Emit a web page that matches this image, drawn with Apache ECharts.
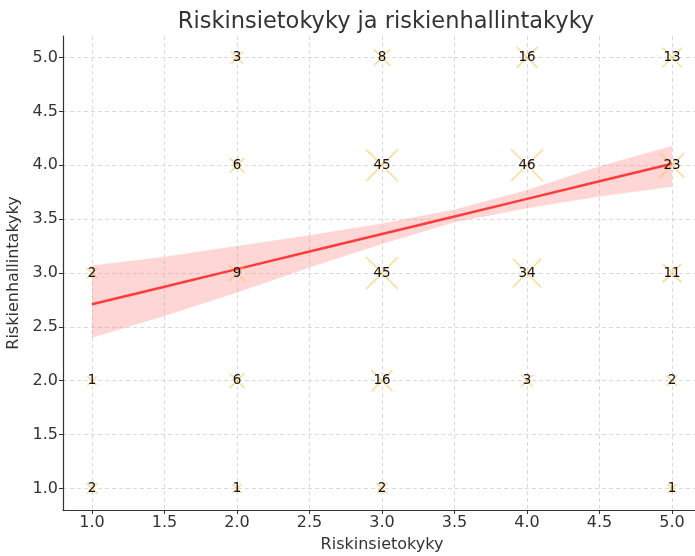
<!DOCTYPE html>
<html><head><meta charset="utf-8">
<script src="https://cdn.jsdelivr.net/npm/echarts@6/dist/echarts.min.js"></script>
<style>html,body{margin:0;padding:0;background:#fff}#c{width:695px;height:556px}</style>
</head><body><div id="c"></div>
<script>
// Data
var xCategories = [1, 2, 3, 4, 5];
var yLevels = [1, 2, 3, 4, 5];
// [riskinsietokyky, riskienhallintakyky, count]
var pointsX = [1, 1, 1, 2, 2, 2, 2, 2, 3, 3, 3, 3, 3, 4, 4, 4, 4, 5, 5, 5, 5, 5];
var pointsY = [3, 2, 1, 5, 4, 3, 2, 1, 5, 4, 3, 2, 1, 5, 4, 3, 2, 5, 4, 3, 2, 1];
var counts  = [2, 1, 2, 3, 6, 9, 6, 1, 8, 45, 45, 16, 2, 16, 46, 34, 3, 13, 23, 11, 2, 1];
// regression line and confidence band
var bandX     = [1, 1.5, 2, 2.5, 3, 3.5, 4, 4.5, 5];
var fitY      = [2.71, 2.873, 3.036, 3.199, 3.362, 3.525, 3.688, 3.851, 4.014];
var bandLower = [2.40, 2.60, 2.82, 3.05, 3.27, 3.47, 3.60, 3.71, 3.80];
var bandUpper = [3.07, 3.15, 3.25, 3.35, 3.46, 3.59, 3.77, 3.99, 4.18];
var tickValues = [1, 1.5, 2, 2.5, 3, 3.5, 4, 4.5, 5];

var font = 'DejaVu Sans';
var scatterData = pointsX.map(function (x, i) { return [x, pointsY[i], counts[i]]; });
var fitData = bandX.map(function (x, i) { return [x, fitY[i]]; });
var bandData = bandX.map(function (x, i) { return [x, bandLower[i], bandUpper[i]]; });

function fmt(v) { return Number(v).toFixed(1); }

var chart = echarts.init(document.getElementById('c'), null, { renderer: 'canvas' });
chart.setOption({
  animation: false,
  backgroundColor: '#fff',
  title: {
    text: 'Riskinsietokyky ja riskienhallintakyky',
    left: 381, top: 6, textAlign: 'center',
    textStyle: { fontFamily: font, fontSize: 22.5, fontWeight: 'normal', color: '#333' }
  },
  grid: { left: 63, top: 36, right: -6, bottom: 46, outerBoundsMode: 'none', containLabel: false },
  xAxis: {
    type: 'value', min: 0.8, max: 5.2,
    name: 'Riskinsietokyky', nameLocation: 'middle', nameGap: 27,
    nameTextStyle: { fontFamily: font, fontSize: 16, color: '#333' },
    axisLine: { show: true, lineStyle: { color: '#333', width: 1.2 } },
    axisTick: { show: true, length: 4, lineStyle: { color: '#333' }, customValues: tickValues },
    axisLabel: { fontFamily: font, fontSize: 16, color: '#333', margin: 5, customValues: tickValues, formatter: fmt },
    splitLine: { show: true, lineStyle: { color: '#d0d0d0', type: [4, 3], width: 0.8 } }
  },
  yAxis: {
    type: 'value', min: 0.8, max: 5.2,
    name: 'Riskienhallintakyky', nameLocation: 'middle', nameGap: 33, nameRotate: 90,
    nameTextStyle: { fontFamily: font, fontSize: 16, color: '#333' },
    axisLine: { show: true, lineStyle: { color: '#333', width: 1.2 } },
    axisTick: { show: true, length: 4, lineStyle: { color: '#333' }, customValues: tickValues },
    axisLabel: { fontFamily: font, fontSize: 16, color: '#333', margin: 5, customValues: tickValues, formatter: fmt },
    splitLine: { show: true, lineStyle: { color: '#d0d0d0', type: [4, 3], width: 0.8 } }
  },
  series: [
    {
      type: 'custom',
      data: bandData,
      z: 2,
      renderItem: function (params, api) {
        if (params.dataIndex !== 0) return null;
        var up = [], lo = [];
        for (var i = 0; i < bandData.length; i++) {
          up.push(api.coord([bandData[i][0], bandData[i][2]]));
          lo.push(api.coord([bandData[i][0], bandData[i][1]]));
        }
        var pts = up.concat(lo.reverse());
        return { type: 'polygon', shape: { points: pts }, style: { fill: 'rgba(255,120,120,0.3)' } };
      },
      encode: { x: 0, y: [1, 2] },
      silent: true
    },
    {
      type: 'line', data: fitData, showSymbol: false, z: 3,
      lineStyle: { color: '#ff3b3b', width: 2.5 }, silent: true
    },
    {
      type: 'scatter', data: scatterData, z: 4,
      symbol: 'path://M0,0L10,10M10,0L0,10',
      symbolSize: function (v) { return 5 + 4 * Math.sqrt(v[2]); },
      itemStyle: { color: 'rgba(0,0,0,0)', borderColor: 'rgba(255,185,60,0.55)', borderWidth: 1.5, opacity: 1 },
      label: {
        show: true, position: 'inside', formatter: function (p) { return p.value[2]; },
        fontFamily: font, fontSize: 13.5, color: '#111'
      }
    }
  ]
});
</script></body></html>
